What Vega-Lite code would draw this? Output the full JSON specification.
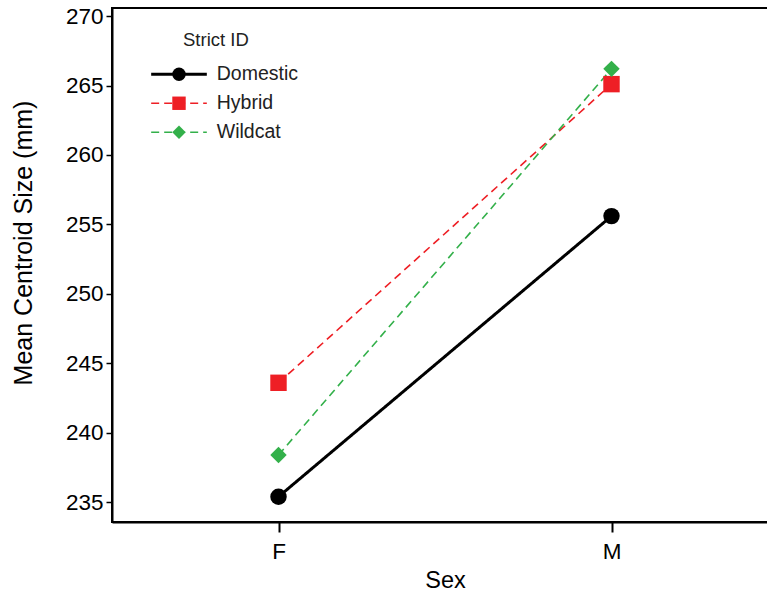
{
  "$schema": "https://vega.github.io/schema/vega-lite/v6.json",
  "width": 666,
  "height": 514,
  "autosize": {"type": "none"},
  "padding": {"left": 112, "top": 8, "right": 0, "bottom": 71},
  "config": {
    "font": "Liberation Sans",
    "view": {"stroke": "black", "strokeWidth": 2},
    "axis": {
      "grid": false,
      "domainColor": "black",
      "domainWidth": 2,
      "tickColor": "black",
      "labelColor": "black",
      "labelFontSize": 22.5,
      "titleColor": "black",
      "titleFontSize": 23.5,
      "titleFontWeight": "normal"
    }
  },
  "data": {
    "values": [
      {"id": "Domestic", "sex": "F", "size": 235.4},
      {"id": "Domestic", "sex": "M", "size": 255.6},
      {"id": "Hybrid", "sex": "F", "size": 243.6},
      {"id": "Hybrid", "sex": "M", "size": 265.1},
      {"id": "Wildcat", "sex": "F", "size": 238.4},
      {"id": "Wildcat", "sex": "M", "size": 266.2}
    ]
  },
  "encoding": {
    "x": {
      "field": "sex",
      "type": "nominal",
      "title": "Sex",
      "scale": {"type": "point", "paddingOuter": 0.5},
      "axis": {"labelAngle": 0, "tickSize": 10, "tickWidth": 2, "labelPadding": 8, "titlePadding": 6}
    },
    "y": {
      "field": "size",
      "type": "quantitative",
      "title": "Mean Centroid Size (mm)",
      "scale": {"domain": [233.58, 270.58], "nice": false, "zero": false},
      "axis": {
        "values": [235, 240, 245, 250, 255, 260, 265, 270],
        "tickSize": 6,
        "tickWidth": 1.5,
        "labelPadding": 3,
        "titleFontSize": 25,
        "titleAngle": 270,
        "titleAlign": "center",
        "titleBaseline": "alphabetic",
        "titleX": -80.3,
        "titleY": 234.5
      }
    }
  },
  "layer": [
    {
      "mark": {"type": "line"},
      "encoding": {
        "color": {
          "field": "id",
          "type": "nominal",
          "scale": {"domain": ["Domestic", "Hybrid", "Wildcat"], "range": ["#000000", "#ee1f25", "#33b04a"]},
          "legend": {
            "orient": "none",
            "legendX": 71,
            "legendY": 23,
            "padding": 0,
            "title": "Strict ID",
            "titleFontSize": 18.5,
            "titleFontWeight": "normal",
            "titleColor": "#222222",
            "titlePadding": 15,
            "labelFontSize": 19.5,
            "labelColor": "#222222",
            "labelOffset": 28,
            "symbolType": "M-4.4,0H4.4",
            "symbolSize": 160,
            "symbolOffset": -13.75,
            "rowPadding": 8
          }
        },
        "strokeDash": {
          "field": "id",
          "type": "nominal",
          "scale": {"domain": ["Domestic", "Hybrid", "Wildcat"], "range": [[1, 0], [8, 5], [8, 5]]}
        },
        "strokeWidth": {
          "field": "id",
          "type": "ordinal",
          "scale": {"type": "ordinal", "domain": ["Domestic", "Hybrid", "Wildcat"], "range": [3, 1.6, 1.6]}
        }
      }
    },
    {
      "mark": {"type": "point", "filled": true, "opacity": 1, "size": 270, "strokeWidth": 0},
      "encoding": {
        "fill": {
          "field": "id",
          "type": "nominal",
          "scale": {"range": ["#000000", "#ee1f25", "#33b04a"]},
          "legend": {
            "orient": "none",
            "legendX": 71,
            "legendY": 23,
            "padding": 0,
            "title": "Strict ID",
            "titleFontSize": 18.5,
            "titleFontWeight": "normal",
            "titleOpacity": 0,
            "titlePadding": 15,
            "labelFontSize": 19.5,
            "labelOpacity": 0,
            "labelOffset": 28,
            "symbolSize": 180,
            "symbolOffset": -13.75,
            "symbolStrokeWidth": 0,
            "rowPadding": 8
          }
        },
        "shape": {
          "field": "id",
          "type": "nominal",
          "scale": {"range": ["circle", "square", "diamond"]}
        }
      }
    }
  ]
}
